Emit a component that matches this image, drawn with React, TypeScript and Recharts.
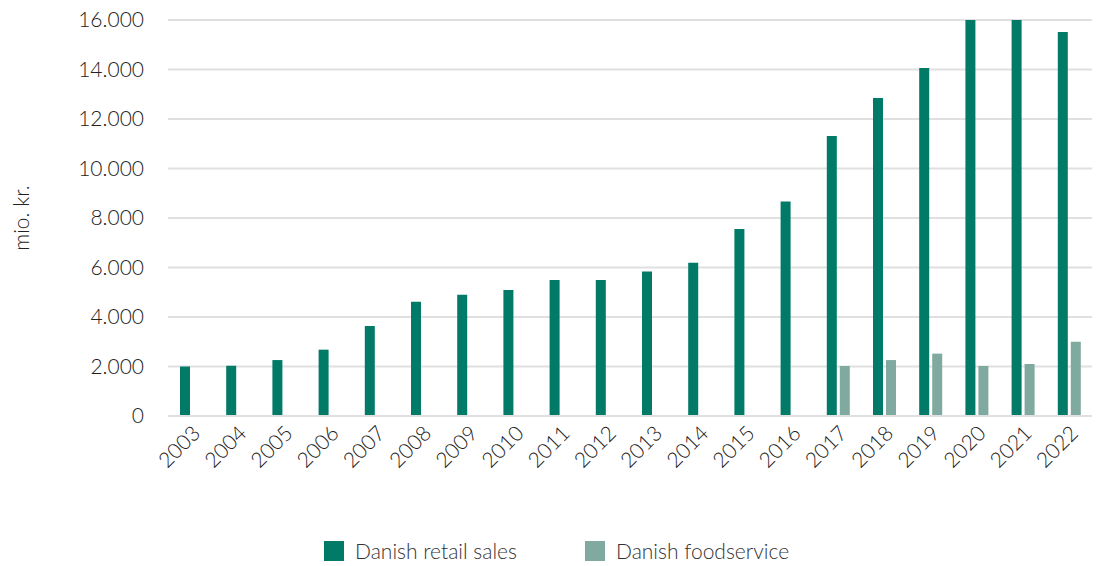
import { BarChart, Bar, XAxis, YAxis, CartesianGrid, Legend } from 'recharts'

const years = ['2003', '2004', '2005', '2006', '2007', '2008', '2009', '2010', '2011', '2012', '2013', '2014', '2015', '2016', '2017', '2018', '2019', '2020', '2021', '2022']
const retail = [2000, 2030, 2260, 2680, 3640, 4620, 4900, 5090, 5490, 5490, 5840, 6190, 7560, 8670, 11310, 12850, 14060, 16000, 16000, 15520]
const foodservice = [null, null, null, null, null, null, null, null, null, null, null, null, null, null, 2020, 2260, 2520, 2020, 2100, 3000]
const yTicks = [0, 2000, 4000, 6000, 8000, 10000, 12000, 14000, 16000]

const data = years.map((year, i) => ({ year, retail: retail[i], foodservice: foodservice[i] }))

const font = 'Lato, "Open Sans", sans-serif'
const retailColor = '#017a68'
const foodColor = '#80a99f'

const fmt = (v: number) => (v === 0 ? '0' : v.toLocaleString('de-DE'))

function LegendContent() {
  const items = [
    { name: 'Danish retail sales', color: retailColor },
    { name: 'Danish foodservice', color: foodColor },
  ]
  return (
    <div style={{ display: 'flex', gap: 68, fontFamily: font, fontWeight: 300, fontSize: 21, color: '#333', lineHeight: '24px' }}>
      {items.map((it) => (
        <div key={it.name} style={{ display: 'flex', alignItems: 'center' }}>
          <span style={{ width: 20, height: 20, background: it.color, display: 'inline-block', marginRight: 11 }} />
          <span>{it.name}</span>
        </div>
      ))}
    </div>
  )
}

export default function App() {
  return (
    <div style={{ position: 'absolute', left: 0, top: 0, background: '#fff' }}>
      <BarChart
        width={1099}
        height={566}
        data={data}
        margin={{ top: 20, right: 7, left: 20, bottom: 0 }}
        barCategoryGap="25%"
        barGap={3}
      >
        <CartesianGrid vertical={false} stroke="#e0e0e0" strokeWidth={2} />
        <XAxis
          dataKey="year"
          height={126}
          axisLine={{ stroke: '#e0e0e0', strokeWidth: 2 }}
          tickLine={false}
          interval={0}
          angle={-45}
          textAnchor="end"
          tickSize={0}
          tickMargin={8}
          tick={{ fontFamily: font, fontWeight: 300, fontSize: 21, fill: '#222' }}
        />
        <YAxis
          width={148}
          domain={[0, 16000]}
          ticks={yTicks}
          tickFormatter={fmt}
          axisLine={false}
          tickLine={false}
          tickSize={0}
          tickMargin={24}
          allowDataOverflow
          tick={{ fontFamily: font, fontWeight: 300, fontSize: 21, fill: '#222' }}
          label={() => (
            <text
              x={29}
              y={218}
              transform="rotate(-90 29 218)"
              textAnchor="middle"
              style={{ fontFamily: font, fontWeight: 300, fontSize: 21, fill: '#222' }}
            >
              mio. kr.
            </text>
          )}
        />
        <Legend
          content={<LegendContent />}
          wrapperStyle={{ left: 324, top: 539, width: 'auto' }}
        />
        <Bar dataKey="retail" name="Danish retail sales" fill={retailColor} barSize={10} isAnimationActive={false} />
        <Bar dataKey="foodservice" name="Danish foodservice" fill={foodColor} barSize={10} isAnimationActive={false} />
      </BarChart>
    </div>
  )
}
